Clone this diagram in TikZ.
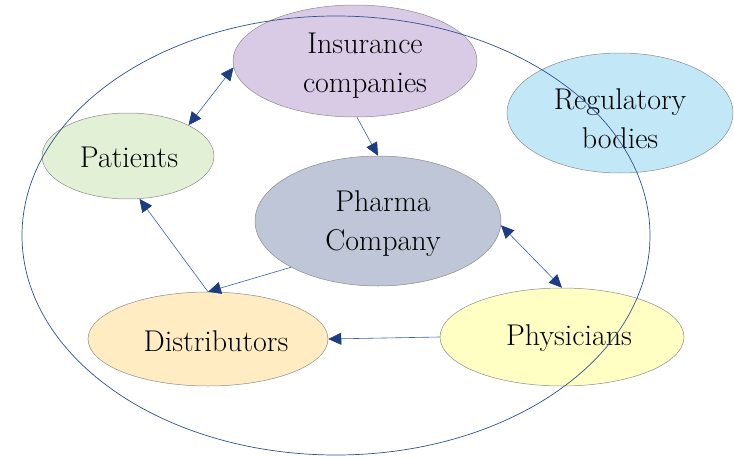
\documentclass[tikz,border=0pt]{standalone}
\usepackage{fontspec}
\usetikzlibrary{shapes.geometric,arrows.meta,calc}
\definecolor{insfill}{HTML}{D9CBE6}
\definecolor{regfill}{HTML}{C2E8F8}
\definecolor{patfill}{HTML}{E2F0D6}
\definecolor{phafill}{HTML}{BEC6D7}
\definecolor{disfill}{HTML}{FFECC2}
\definecolor{phyfill}{HTML}{FFFFC4}
\definecolor{rim}{HTML}{8C8C8C}
\definecolor{outer}{HTML}{2F528F}
\definecolor{link}{HTML}{3A5FA3}
\definecolor{head}{HTML}{1E3C82}
\begin{document}
\begin{tikzpicture}[x=1pt,y=-1pt,
  party/.style={ellipse, draw=rim, line width=0.5pt, inner sep=0pt},
  lbl/.style={font=\fontsize{30}{39}\selectfont, align=center, text=black},
  tip/.style={Triangle[length=13pt,width=12pt,fill=head,color=head]},
  flow/.style={draw=link, line width=0.6pt, -{Triangle[length=13pt,width=12pt,fill=head,color=head]}},
  both/.style={draw=link, line width=0.6pt,
    {Triangle[length=13pt,width=12pt,fill=head,color=head]}-{Triangle[length=13pt,width=12pt,fill=head,color=head]}}]
\useasboundingbox (0,0) rectangle (734,458);

% the six parties
\node[party, fill=insfill, minimum width=244pt, minimum height=112pt] (ins) at (355,61) {};
\node[party, fill=regfill, minimum width=226pt, minimum height=120pt] (reg) at (620,113) {};
\node[party, fill=patfill, minimum width=172pt, minimum height=86pt] (pat) at (128,156) {};
\node[party, fill=phafill, minimum width=246pt, minimum height=130pt] (pha) at (378,221) {};
\node[party, fill=disfill, minimum width=240pt, minimum height=94pt] (dis) at (208,339) {};
\node[party, fill=phyfill, minimum width=244pt, minimum height=98pt] (phy) at (562,337) {};

% their names
\node[lbl] (insT) at ($(ins)+(10,5)$) {Insurance\\companies};
\node[lbl] (regT) at ($(reg)+(0,6)$) {Regulatory\\bodies};
\node[lbl] (patT) at ($(pat)+(1,1)$) {Patients};
\node[lbl] (phaT) at ($(pha)+(5,3)$) {Pharma\\Company};
\node[lbl] (disT) at ($(dis)+(8,2)$) {Distributors};
\node[lbl] (phyT) at ($(phy)+(7,1)$) {Physicians};

% the surrounding market boundary
\draw[outer, line width=0.7pt] (336,235.5) ellipse [x radius=314, y radius=219.5];

% relations
\draw[both] (pat.27) -- (ins.183);
\draw[flow] (ins.-88) -- (pha.90);
\draw[both] (pha.-2) -- (phy.90);
\draw[flow] (phy.180) -- (dis.0);
\draw[flow] (pha.208) -- (dis.90);
\draw[flow] (dis.90) -- (pat.-75);
\end{tikzpicture}
\end{document}
